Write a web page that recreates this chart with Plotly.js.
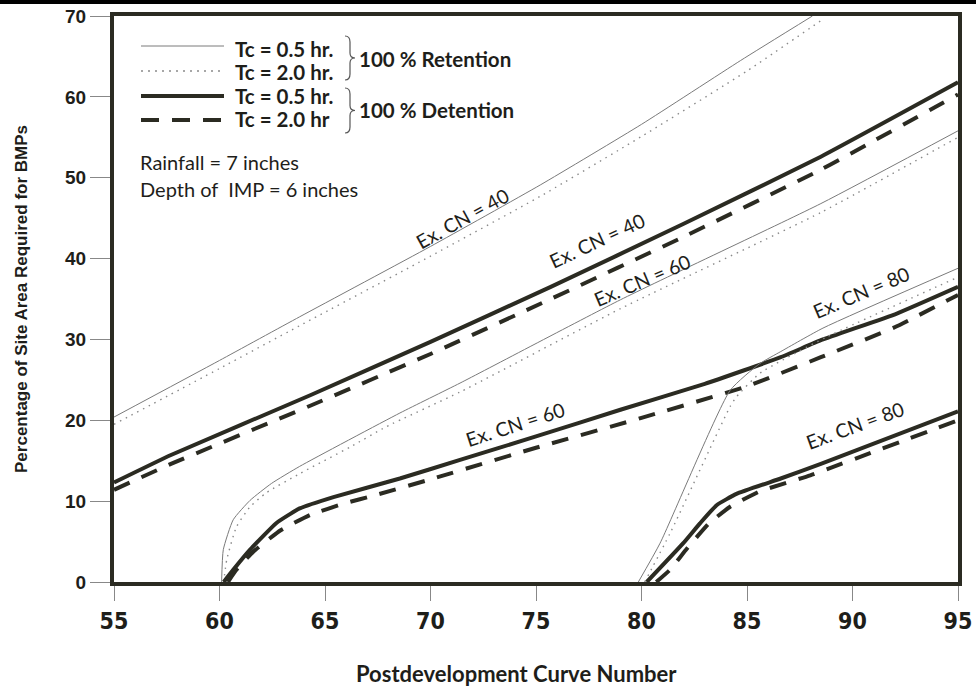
<!DOCTYPE html>
<html>
<head>
<meta charset="utf-8">
<script src="https://cdn.plot.ly/plotly-3.0.1.min.js"></script>
<style>html,body{margin:0;padding:0;background:#fff;}#chart{width:976px;height:689px;}</style>
</head>
<body>
<div id="chart"></div>
<script>
// ---- Data ----
var xTicks = [55, 60, 65, 70, 75, 80, 85, 90, 95];
var yTicks = [0, 10, 20, 30, 40, 50, 60, 70];

// Ex. CN = 40, 100% Retention
var ret40T05x = [55, 60, 63.8, 70, 75.2, 80, 84.7, 88.1];
var ret40T05y = [20.4, 27.4, 32.8, 41.5, 49.1, 56.6, 64.5, 70];
var ret40T20x = [55, 60, 63.8, 70, 75.2, 80, 85, 88.6];
var ret40T20y = [19.5, 26.4, 31.7, 40.3, 47.7, 55.1, 63.2, 69.6];
// Ex. CN = 40, 100% Detention
var det40T05x = [55, 57.7, 64.3, 70, 75.7, 82, 88.5, 95];
var det40T05y = [12.3, 15.7, 23.1, 29.7, 36.5, 44.3, 52.6, 61.8];
var det40T20x = [55, 57.7, 64.3, 70, 75.7, 82, 88.5, 95];
var det40T20y = [11.4, 14.6, 21.8, 28.2, 35.0, 42.7, 51.0, 60.3];

// Ex. CN = 60, 100% Retention
var ret60T05x = [60.1, 60.18, 60.65, 61.45, 62.47, 63.8, 68.55, 71.4, 79, 88.5, 95];
var ret60T05y = [0, 4.0, 7.7, 10.1, 12.2, 14.3, 20.9, 24.6, 34.9, 46.8, 55.8];
var ret60T20x = [60.2, 60.34, 60.8, 61.45, 62.2, 63.8, 66.2, 67.9, 71.4, 79, 88.5, 95];
var ret60T20y = [0, 2.7, 6.8, 9.3, 11.0, 13.4, 16.7, 19.2, 23.5, 33.8, 45.7, 55.0];
// Ex. CN = 60, 100% Detention
var det60T05x = [60.2, 60.65, 61.45, 62.7, 63.8, 65.4, 68.55, 71.4, 75, 79, 83, 86.6, 88.5, 92.1, 95];
var det60T05y = [0, 1.5, 4.0, 7.3, 9.1, 10.5, 12.8, 15.1, 18.0, 21.3, 24.5, 27.8, 29.9, 33.2, 36.5];
var det60T20x = [60.4, 60.8, 61.6, 62.9, 64.3, 65.9, 67.4, 70, 75, 80, 85, 88.5, 92, 95];
var det60T20y = [0, 1.5, 3.75, 6.4, 8.3, 9.7, 10.75, 12.7, 16.6, 20.3, 24.2, 27.8, 31.5, 35.5];

// Ex. CN = 80, 100% Retention
var ret80T05x = [79.85, 80.88, 84.2, 85.6, 86.6, 88.6, 95];
var ret80T05y = [0, 4.8, 23.7, 27.0, 28.5, 31.4, 38.8];
var ret80T20x = [80.15, 81.35, 84.2, 84.5, 85.6, 88.7, 95];
var ret80T20y = [0, 6.0, 21.7, 22.9, 25.8, 30.2, 37.7];
// Ex. CN = 80, 100% Detention
var det80T05x = [80.25, 81.98, 82.77, 83.56, 84.5, 86.6, 88.5, 95];
var det80T05y = [0, 4.8, 7.25, 9.5, 10.9, 12.8, 14.6, 21.1];
var det80T20x = [80.7, 81.35, 82.1, 83.2, 84.2, 85.6, 88, 95];
var det80T20y = [0, 1.5, 3.96, 7.25, 9.3, 11.2, 13.2, 20.0];

// Curve labels
var labelText = ["Ex. CN = 40", "Ex. CN = 40", "Ex. CN = 60", "Ex. CN = 60", "Ex. CN = 80", "Ex. CN = 80"];
var labelX = [71.5, 77.9, 80.0, 74.0, 90.4, 90.1];
var labelY = [45.0, 42.2, 37.3, 19.5, 35.8, 19.3];
var labelAngle = [-29, -25, -23, -18, -23, -20];

// ---- Styles ----
var INK = '#2b2b22';
var thin = {color: '#7a7a7a', width: 1, shape: 'spline', smoothing: 0.5};
var dotted = {color: '#8a8a8a', width: 1.4, dash: '1.5px,5px', shape: 'spline', smoothing: 0.5};
var thick = {color: INK, width: 4, shape: 'spline', smoothing: 0.4};
var dashed = {color: INK, width: 4, dash: '17px,13px', shape: 'spline', smoothing: 0.4};

function tr(x, y, line, name) {
  return {x: x, y: y, type: 'scatter', mode: 'lines', line: line, name: name, hoverinfo: 'x+y', showlegend: false, cliponaxis: true};
}

var data = [
  tr(ret40T05x, ret40T05y, thin, 'Retention Tc=0.5, CN40'),
  tr(ret40T20x, ret40T20y, dotted, 'Retention Tc=2.0, CN40'),
  tr(det40T05x, det40T05y, thick, 'Detention Tc=0.5, CN40'),
  tr(det40T20x, det40T20y, dashed, 'Detention Tc=2.0, CN40'),
  tr(ret60T05x, ret60T05y, thin, 'Retention Tc=0.5, CN60'),
  tr(ret60T20x, ret60T20y, dotted, 'Retention Tc=2.0, CN60'),
  tr(det60T05x, det60T05y, thick, 'Detention Tc=0.5, CN60'),
  tr(det60T20x, det60T20y, dashed, 'Detention Tc=2.0, CN60'),
  tr(ret80T05x, ret80T05y, thin, 'Retention Tc=0.5, CN80'),
  tr(ret80T20x, ret80T20y, dotted, 'Retention Tc=2.0, CN80'),
  tr(det80T05x, det80T05y, thick, 'Detention Tc=0.5, CN80'),
  tr(det80T20x, det80T20y, dashed, 'Detention Tc=2.0, CN80')
];

// ---- pixel -> paper helpers for the hand-drawn key ----
var L = 114, R = 958, T = 16, B = 582;
function px(x) { return (x - L) / (R - L); }
function py(y) { return (B - y) / (B - T); }

var shapes = [];
// top page rule
shapes.push({type: 'line', xref: 'paper', yref: 'paper', x0: px(0), x1: px(976), y0: py(2), y1: py(2), line: {color: '#000', width: 4}, layer: 'above'});
// key lines
var keyX0 = 141, keyX1 = 224;
shapes.push({type: 'line', xref: 'paper', yref: 'paper', x0: px(keyX0), x1: px(keyX1), y0: py(46), y1: py(46), line: {color: '#7a7a7a', width: 1}});
shapes.push({type: 'line', xref: 'paper', yref: 'paper', x0: px(keyX0), x1: px(keyX1), y0: py(71), y1: py(71), line: {color: '#8a8a8a', width: 1.4, dash: '2px,5px'}});
shapes.push({type: 'line', xref: 'paper', yref: 'paper', x0: px(keyX0), x1: px(keyX1), y0: py(96), y1: py(96), line: {color: INK, width: 4}});
shapes.push({type: 'line', xref: 'paper', yref: 'paper', x0: px(keyX0), x1: px(keyX1 + 1), y0: py(120), y1: py(120), line: {color: INK, width: 4, dash: '18px,13px'}});

function brace(xl, yt, yb) {
  var xm = xl + 5, xt = xl + 10, ym = (yt + yb) / 2;
  function P(x, y) { return px(x).toFixed(5) + ',' + py(y).toFixed(5); }
  return 'M' + P(xl, yt) + ' Q' + P(xm, yt) + ' ' + P(xm, yt + 6) +
         ' L' + P(xm, ym - 5) + ' Q' + P(xm, ym) + ' ' + P(xt, ym) +
         ' Q' + P(xm, ym) + ' ' + P(xm, ym + 5) +
         ' L' + P(xm, yb - 6) + ' Q' + P(xm, yb) + ' ' + P(xl, yb);
}
shapes.push({type: 'path', xref: 'paper', yref: 'paper', path: brace(345, 36, 80), line: {color: '#555', width: 1.2}});
shapes.push({type: 'path', xref: 'paper', yref: 'paper', path: brace(345, 88, 133), line: {color: '#555', width: 1.2}});

var KEYFONT = {family: 'Lato, "Open Sans", sans-serif', size: 20.5, color: '#1e1e1a', weight: 'bold'};
var NOTEFONT = {family: 'Lato, "Open Sans", sans-serif', size: 20, color: '#1e1e1a'};
var annotations = [];
function keyText(text, x, y, font) {
  annotations.push({text: text, xref: 'paper', yref: 'paper', x: px(x), y: py(y), xanchor: 'left', yanchor: 'middle', showarrow: false, font: font});
}
keyText('Tc = 0.5 hr.', 233, 49, KEYFONT);
keyText('Tc = 2.0 hr.', 233, 72, KEYFONT);
keyText('Tc = 0.5 hr.', 233, 96, KEYFONT);
keyText('Tc = 2.0 hr', 233, 119, KEYFONT);
keyText('100 % Retention', 357, 59, KEYFONT);
keyText('100 % Detention', 357, 110, KEYFONT);
keyText('Rainfall = 7 inches', 138, 162, NOTEFONT);
keyText('Depth of \u00a0IMP = 6 inches', 138, 189, NOTEFONT);

for (var i = 0; i < labelText.length; i++) {
  annotations.push({text: labelText[i], x: labelX[i], y: labelY[i], xref: 'x', yref: 'y', showarrow: false, textangle: labelAngle[i],
    font: {family: 'Lato, "Open Sans", sans-serif', size: 19.5, color: '#1e1e1a'}});
}
// x-axis title
annotations.push({text: 'Postdevelopment Curve Number', xref: 'paper', yref: 'paper', x: px(516), y: py(673), xanchor: 'center', yanchor: 'middle', showarrow: false,
  borderpad: 0, font: {family: 'Lato, "Open Sans", sans-serif', size: 22, color: '#1e1e1a', weight: 'bold'}});

var layout = {
  width: 976, height: 689,
  margin: {l: L, r: 976 - R, t: T, b: 689 - B},
  paper_bgcolor: '#fff', plot_bgcolor: '#fff',
  showlegend: false,
  xaxis: {
    range: [55, 95], tickvals: xTicks, ticktext: xTicks.map(String),
    showgrid: false, zeroline: false,
    showline: true, mirror: true, linecolor: INK, linewidth: 4,
    ticks: 'outside', ticklen: 15, tickwidth: 1, tickcolor: '#888',
    tickfont: {family: '"Liberation Sans Narrow", "DejaVu Sans Condensed", sans-serif', size: 23, color: '#1e1e1a', weight: 'bold'},
    fixedrange: true
  },
  yaxis: {
    range: [0, 70], tickvals: yTicks, ticktext: yTicks.map(String),
    showgrid: false, zeroline: false,
    showline: true, mirror: true, linecolor: INK, linewidth: 4,
    ticks: 'outside', ticklen: 20, tickwidth: 1, tickcolor: '#888',
    tickfont: {family: '"Liberation Sans", Arial, sans-serif', size: 19, color: '#1e1e1a', weight: 'bold'},
    title: {text: 'Percentage of Site Area Required for BMPs', standoff: 34,
      font: {family: '"Liberation Sans", Arial, sans-serif', size: 17, color: '#1e1e1a', weight: 'bold'}},
    fixedrange: true
  },
  shapes: shapes,
  annotations: annotations
};

Plotly.newPlot('chart', data, layout, {displayModeBar: false, staticPlot: true});
</script>
</body>
</html>
